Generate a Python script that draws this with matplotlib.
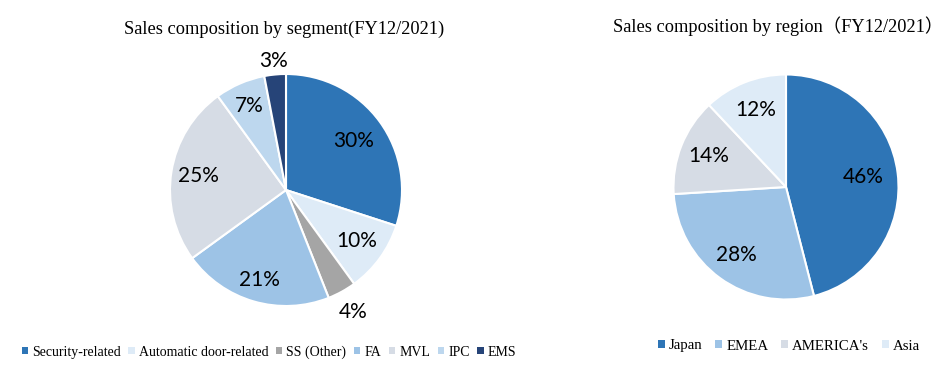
import numpy as np
import matplotlib.pyplot as plt
from matplotlib.patches import Patch

# data
seg_names = ['Security-related', 'Automatic door-related', 'SS (Other)', 'FA', 'MVL', 'IPC', 'EMS']
seg_vals = [30, 10, 4, 21, 25, 7, 3]
seg_colors = ['#2E75B6', '#DEEBF7', '#A5A5A5', '#9DC3E6', '#D6DCE5', '#BDD7EE', '#264478']

reg_names = ['Japan', 'EMEA', "AMERICA's", 'Asia']
reg_vals = [46, 28, 14, 12]
reg_colors = ['#2E75B6', '#9DC3E6', '#D6DCE5', '#DEEBF7']

# label distance from centre (fraction of radius)
seg_dist = [0.72, 0.75, 1.2, 0.81, 0.76, 0.79, 1.12]
reg_dist = [0.69, 0.75, 0.74, 0.74]

W, H = 952, 369
fig = plt.figure(figsize=(W/100, H/100), dpi=100)

def pie_ax(cx, cy, r):
    return fig.add_axes([(cx-r)/W, (H-cy-r)/H, 2*r/W, 2*r/H])

def draw_pie(ax, vals, colors, dist):
    ax.pie(vals, colors=colors, startangle=90, counterclock=False,
           wedgeprops=dict(edgecolor='white', linewidth=1.5))
    tot = sum(vals)
    cum = np.cumsum([0] + list(vals))
    for i, v in enumerate(vals):
        mid = np.deg2rad(90 - 360*(cum[i] + v/2)/tot)
        ax.text(dist[i]*np.cos(mid), dist[i]*np.sin(mid), f'{v}%',
                ha='center', va='center', fontsize=15, family='Lato', color='black')
    ax.set_xlim(-1, 1)
    ax.set_ylim(-1, 1)
    ax.set_aspect('equal')
    ax.axis('off')

ax1 = pie_ax(286, 190, 116)
draw_pie(ax1, seg_vals, seg_colors, seg_dist)

ax2 = pie_ax(786, 187, 112.5)
draw_pie(ax2, reg_vals, reg_colors, reg_dist)

serif = ['Liberation Serif', 'Noto Sans CJK JP']
fig.text(284/W, 1-29/H, 'Sales composition by segment(FY12/2021)', ha='center', va='center',
         fontsize=13.2, family=serif)
fig.text(778/W, 1-26/H, 'Sales composition by region（FY12/2021）', ha='center', va='center',
         fontsize=13.2, family=serif)

h1 = [Patch(facecolor=c, edgecolor='none') for c in seg_colors]
fig.legend(h1, seg_names, loc='center', bbox_to_anchor=(269/W, 1-352/H), ncol=7, frameon=False,
           prop=dict(family='Liberation Serif', size=10), handlelength=0.45, handleheight=0.45,
           handletextpad=0.3, columnspacing=0.55, borderpad=0)
h2 = [Patch(facecolor=c, edgecolor='none') for c in reg_colors]
fig.legend(h2, reg_names, loc='center', bbox_to_anchor=(789/W, 1-346/H), ncol=4, frameon=False,
           prop=dict(family='Liberation Serif', size=10.7), handlelength=0.45, handleheight=0.45,
           handletextpad=0.3, columnspacing=0.85, borderpad=0)

fig.savefig('out.png', dpi=100, facecolor='white')
